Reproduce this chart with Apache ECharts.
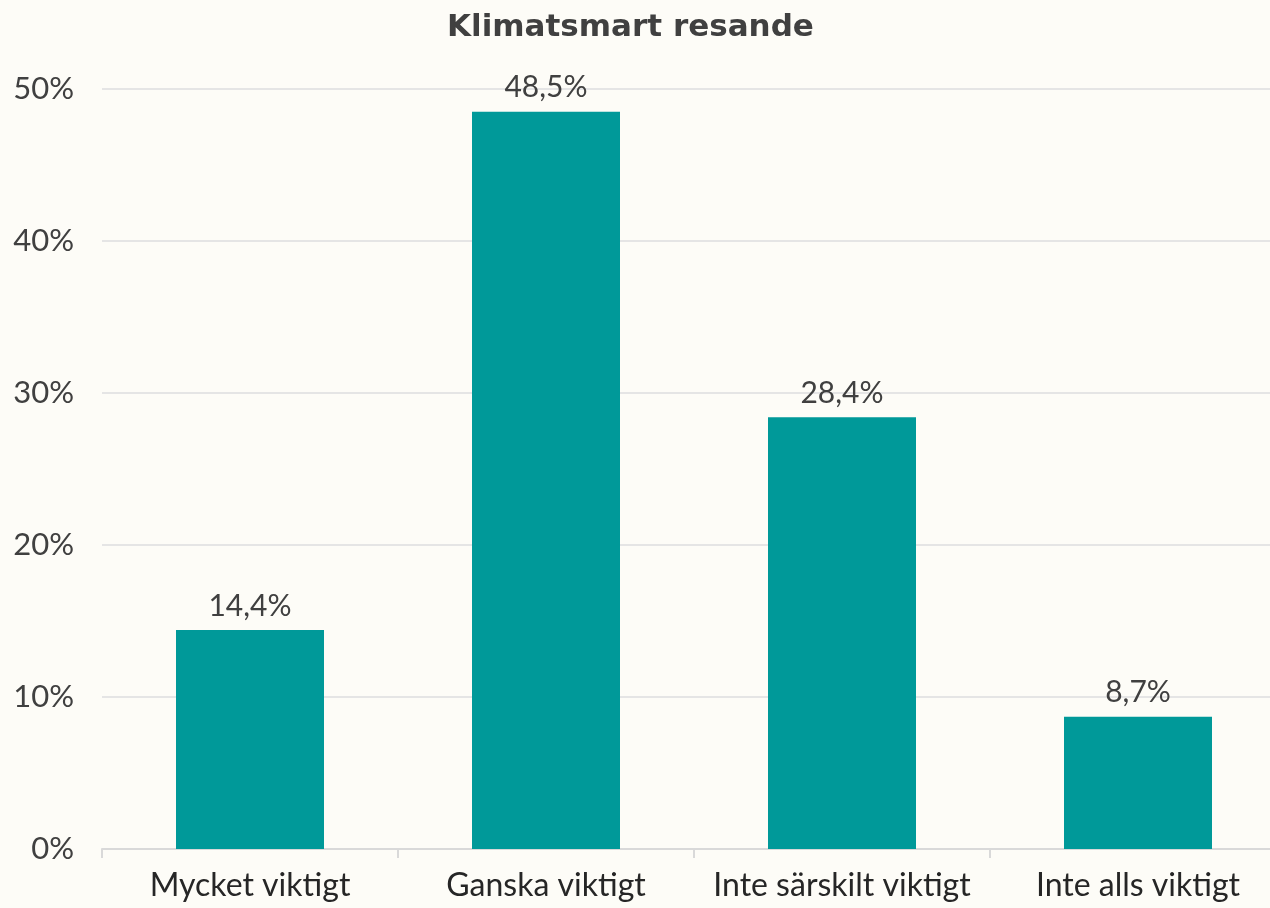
<!DOCTYPE html>
<html><head><meta charset="utf-8">
<script src="https://cdn.jsdelivr.net/npm/echarts@6/dist/echarts.min.js"></script>
<style>html,body{margin:0;padding:0;background:#FDFCF7;overflow:hidden;width:1270px;height:908px;}#c{width:1286px;height:908px;}</style>
</head><body><div id="c"></div>
<script>
const title = "Klimatsmart resande";
const categories = ["Mycket viktigt", "Ganska viktigt", "Inte särskilt viktigt", "Inte alls viktigt"];
const values = [14.4, 48.5, 28.4, 8.7];
const yTicks = [0, 10, 20, 30, 40, 50];

const chart = echarts.init(document.getElementById('c'));
const font = "Lato, 'Open Sans', sans-serif";
chart.setOption({
  backgroundColor: '#FDFCF7',
  animation: false,
  title: {
    text: title, left: 442, top: 7,
    textStyle: {fontFamily: "'DejaVu Sans', sans-serif", fontSize: 31, fontWeight: 'bold', color: '#404040'}
  },
  grid: {left: 102, right: 0, top: 89, bottom: 59, containLabel: false},
  xAxis: {
    type: 'category', data: categories,
    axisLine: {lineStyle: {color: '#D9D9D9', width: 2}},
    axisTick: {show: true, length: 9, lineStyle: {color: '#D9D9D9', width: 2}},
    axisLabel: {fontFamily: font, fontSize: 32, color: '#262626', margin: 21, interval: 0, hideOverlap: false}
  },
  yAxis: {
    type: 'value', min: yTicks[0], max: yTicks[yTicks.length - 1], interval: 10,
    axisLine: {show: false}, axisTick: {show: false},
    splitLine: {lineStyle: {color: '#E5E5E5', width: 2}},
    axisLabel: {fontFamily: font, fontSize: 31, color: '#404040', margin: 28,
      formatter: v => v + '%'}
  },
  series: [{
    type: 'bar', data: values, barWidth: '50%',
    itemStyle: {color: '#009999'},
    label: {show: true, position: 'top', distance: 9, fontFamily: font, fontSize: 30, color: '#404040',
      formatter: p => p.value.toFixed(1).replace('.', ',') + '%'}
  }]
});
</script></body></html>
